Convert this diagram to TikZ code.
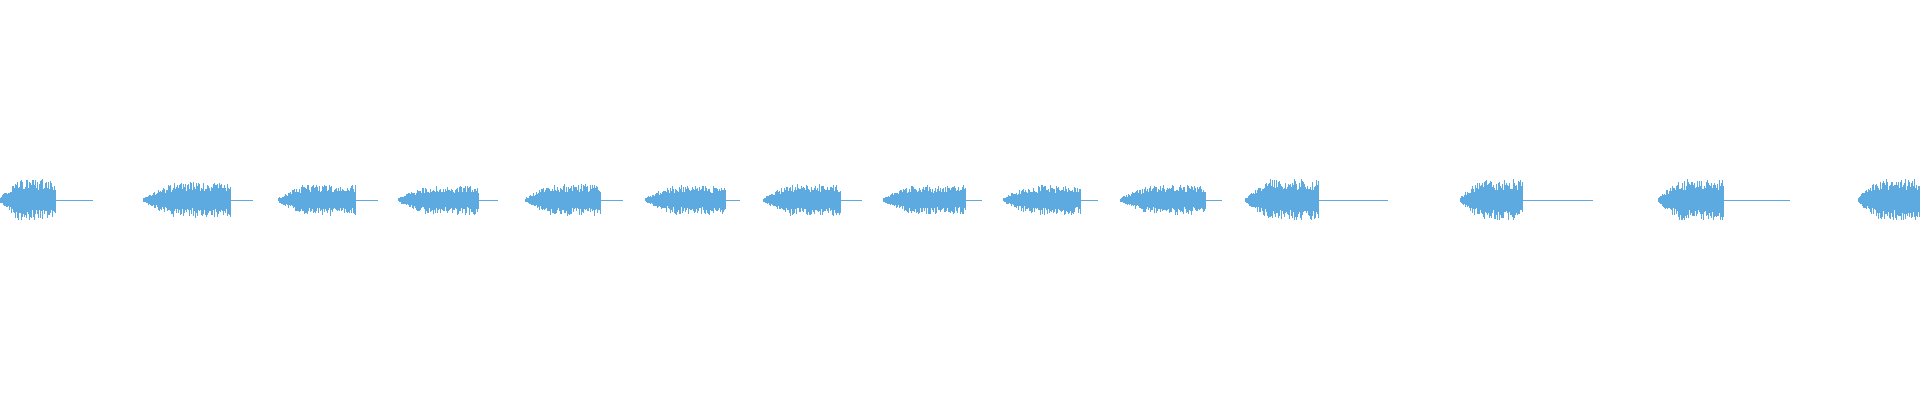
\documentclass[tikz,border=0pt]{standalone}
\definecolor{wv}{HTML}{5DAAE0}
\newcommand\wavseg[4]{%
  \draw[wv,line width=0.6pt] (#2,200) -- (#3,200);
  \foreach \x in {#1,...,#2}{%
    \pgfmathsetmacro\f{min(1,(\x-#1+1)/(0.35*(#2-#1)))}%
    \pgfmathsetmacro\h{#4*(\f^0.8)*(0.45+0.55*rnd)+0.8}%
    \pgfmathsetmacro\k{#4*(\f^0.8)*(0.45+0.55*rnd)+0.8}%
    \draw[wv,line width=0.7pt] (\x,200+\h) -- (\x,200-\k);
  }}
\begin{document}
\begin{tikzpicture}[x=1pt,y=-1pt]
\pgfmathsetseed{7}
\useasboundingbox (0,0) rectangle (1920,400);
\wavseg{0}{55}{93}{20}
\wavseg{143}{230}{253}{17}
\wavseg{278}{355}{378}{15}
\wavseg{398}{478}{498}{14}
\wavseg{525}{600}{623}{15}
\wavseg{645}{725}{740}{14}
\wavseg{763}{840}{862}{15}
\wavseg{883}{965}{982}{14}
\wavseg{1003}{1080}{1098}{14}
\wavseg{1120}{1205}{1222}{14}
\wavseg{1245}{1318}{1388}{20}
\wavseg{1460}{1522}{1593}{20}
\wavseg{1658}{1723}{1790}{20}
\wavseg{1858}{1920}{1920}{20}
\end{tikzpicture}
\end{document}
